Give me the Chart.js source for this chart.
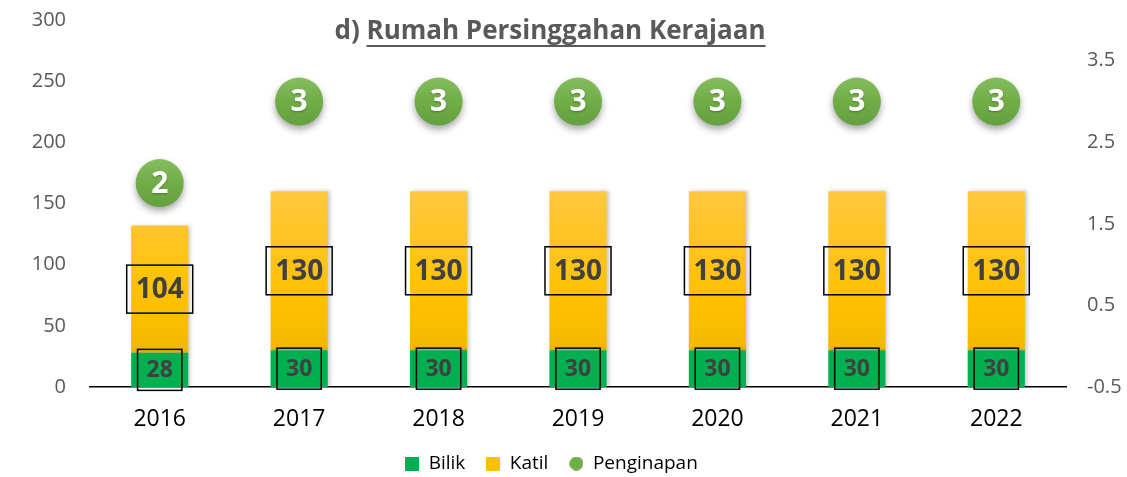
<!DOCTYPE html>
<html>
<head>
<meta charset="utf-8">
<script src="https://cdn.jsdelivr.net/npm/chart.js@4.4.1/dist/chart.umd.min.js"></script>
<style>
  html, body { margin: 0; padding: 0; background: #fff; }
  #wrap { width: 1127px; height: 477px; position: relative; }
</style>
</head>
<body>
<div id="wrap"><canvas id="rpk-canvas"></canvas></div>
<script>
const years = ["2016", "2017", "2018", "2019", "2020", "2021", "2022"];
const bilik = [28, 30, 30, 30, 30, 30, 30];
const katil = [104, 130, 130, 130, 130, 130, 130];
const penginapan = [2, 3, 3, 3, 3, 3, 3];
const rightTicks = [-0.5, 0.5, 1.5, 2.5, 3.5];

const FONT = "'Open Sans', 'DejaVu Sans', sans-serif";
const GREY = "#595959";

// small legend markers
function marker(color, round) {
    const c = document.createElement("canvas");
    c.width = 14; c.height = 14;
    const g = c.getContext("2d");
    g.fillStyle = color;
    if (round) {
        g.beginPath();
        g.arc(7, 7, 7, 0, Math.PI * 2);
        g.fill();
    } else {
        g.fillRect(0, 0, 14, 14);
    }
    return c;
}
const mkBilik = marker("#00B050", false);
const mkKatil = marker("#FFC000", false);
const mkPeng = marker("#70AD47", true);

// box labels centred in each bar segment
const boxLabels = {
    id: "boxLabels",
    afterDatasetsDraw(chart) {
        const ctx = chart.ctx;
        [[0, 23, 18], [1, 28, 20]].forEach(function (cfg) {
            const meta = chart.getDatasetMeta(cfg[0]);
            const vals = chart.data.datasets[cfg[0]].data;
            meta.data.forEach(function (el, i) {
                const txt = String(vals[i]);
                const cy = (el.y + el.base) / 2;
                ctx.save();
                ctx.font = "bold " + cfg[1] + "px " + FONT;
                const w = ctx.measureText(txt).width + 18;
                const h = cfg[1] + cfg[2];
                ctx.strokeStyle = "#000";
                ctx.lineWidth = 1.5;
                ctx.strokeRect(el.x - w / 2, cy - h / 2, w, h);
                ctx.fillStyle = "#404040";
                ctx.textAlign = "center";
                ctx.textBaseline = "middle";
                ctx.fillText(txt, el.x, cy + 1);
                ctx.restore();
            });
        });
        // numbers inside the circles
        const pm = chart.getDatasetMeta(2);
        pm.data.forEach(function (pt, i) {
            ctx.save();
            ctx.font = "bold 30px " + FONT;
            ctx.fillStyle = "#fff";
            ctx.textAlign = "center";
            ctx.textBaseline = "middle";
            ctx.shadowColor = "rgba(0,0,0,0.3)";
            ctx.shadowBlur = 2;
            ctx.shadowOffsetY = 1;
            ctx.fillText(String(penginapan[i]), pt.x, pt.y + 1);
            ctx.restore();
        });
    }
};

// shadows for bars and circles
const shadows = {
    id: "shadows",
    beforeDraw(chart) {
        // legend sits a bit left of the canvas centre in the original
        if (chart.legend) {
            chart.legend.left = -12;
            chart.legend.right = chart.width - 12;
        }
    },
    beforeDatasetDraw(chart, args) {
        const ctx = chart.ctx;
        ctx.save();
        if (args.index === 2) {
            ctx.shadowColor = "rgba(0,0,0,0.35)";
            ctx.shadowBlur = 7;
            ctx.shadowOffsetY = 4;
        } else {
            ctx.shadowColor = "rgba(0,0,0,0.22)";
            ctx.shadowBlur = 4;
            ctx.shadowOffsetX = 2;
        }
    },
    afterDatasetDraw(chart) {
        chart.ctx.restore();
    }
};

// title with underline
const titlePlugin = {
    id: "titlePlugin",
    afterDraw(chart) {
        const ctx = chart.ctx;
        ctx.save();
        ctx.font = "bold 26px " + FONT;
        ctx.fillStyle = GREY;
        ctx.textBaseline = "middle";
        const pre = "d) ";
        const main = "Rumah Persinggahan Kerajaan";
        const wPre = ctx.measureText(pre).width;
        const wMain = ctx.measureText(main).width;
        const x0 = 550 - (wPre + wMain) / 2;
        const y = 32;
        ctx.fillText(pre, x0, y);
        ctx.fillText(main, x0 + wPre, y);
        ctx.fillRect(x0 + wPre, y + 13, wMain, 2);
        ctx.restore();
    }
};

function katilGradient(context) {
    const area = context.chart.chartArea;
    const y = context.chart.scales.y;
    if (!area || !y) return "#FFC000";
    const top = y.getPixelForValue(160);
    if (!isFinite(top) || !isFinite(area.bottom)) return "#FFC000";
    const g = context.chart.ctx.createLinearGradient(0, top, 0, area.bottom);
    g.addColorStop(0, "#FFC83F");
    g.addColorStop(0.55, "#FFC000");
    g.addColorStop(1, "#E9B300");
    return g;
}

function circleGradient(context) {
    const s = context.chart.scales.y1;
    if (!s || context.dataIndex === undefined) return "#70AD47";
    const cy = s.getPixelForValue(penginapan[context.dataIndex]);
    if (!isFinite(cy)) return "#70AD47";
    const g = context.chart.ctx.createLinearGradient(0, cy - 24, 0, cy + 24);
    g.addColorStop(0, "#86BD5E");
    g.addColorStop(0.5, "#70AD47");
    g.addColorStop(1, "#64A03D");
    return g;
}

const ctx = document.getElementById("rpk-canvas").getContext("2d");
new Chart(ctx, {
    data: {
        labels: years,
        datasets: [
            {
                type: "bar",
                label: "Bilik",
                data: bilik,
                backgroundColor: "#00B050",
                yAxisID: "y",
                stack: "s",
                barPercentage: 0.41,
                categoryPercentage: 1,
                order: 2
            },
            {
                type: "bar",
                label: "Katil",
                data: katil,
                backgroundColor: katilGradient,
                yAxisID: "y",
                stack: "s",
                barPercentage: 0.41,
                categoryPercentage: 1,
                order: 2
            },
            {
                type: "line",
                label: "Penginapan",
                data: penginapan,
                yAxisID: "y1",
                showLine: false,
                pointRadius: 24,
                pointHoverRadius: 24,
                pointBorderWidth: 0,
                pointBackgroundColor: circleGradient,
                backgroundColor: "#70AD47",
                order: 1
            }
        ]
    },
    options: {
        responsive: true,
        maintainAspectRatio: false,
        animation: false,
        layout: { autoPadding: false, padding: { top: 20, left: 0, right: 0, bottom: -6 } },
        plugins: {
            tooltip: { enabled: false },
            legend: {
                position: "bottom",
                labels: {
                    font: { family: FONT, size: 19 },
                    color: GREY,
                    boxWidth: 14,
                    boxHeight: 14,
                    padding: 21,
                    usePointStyle: true,
                    generateLabels: function () {
                        return [
                            { text: "Bilik", fillStyle: "#00B050", strokeStyle: "#00B050", lineWidth: 0, pointStyle: mkBilik, datasetIndex: 0 },
                            { text: "Katil", fillStyle: "#FFC000", strokeStyle: "#FFC000", lineWidth: 0, pointStyle: mkKatil, datasetIndex: 1 },
                            { text: "Penginapan", fillStyle: "#70AD47", strokeStyle: "#70AD47", lineWidth: 0, pointStyle: mkPeng, datasetIndex: 2 }
                        ];
                    }
                }
            }
        },
        scales: {
            x: {
                stacked: true,
                grid: { display: false, drawTicks: false },
                border: { display: true, color: "#000", width: 1.5 },
                ticks: { color: "#000", font: { family: FONT, size: 23 }, padding: 19 },
                afterFit: function (scale) { scale.height = 46; }
            },
            y: {
                position: "left",
                stacked: true,
                min: 0,
                max: 300,
                grid: { display: false, drawTicks: true, tickLength: 22 },
                border: { display: false },
                ticks: { stepSize: 50, color: GREY, font: { family: FONT, size: 20 }, padding: 2 },
                afterFit: function (scale) { scale.width = 90; }
            },
            y1: {
                position: "right",
                min: -0.5,
                max: 4,
                grid: { display: false, drawTicks: true, tickLength: 19 },
                border: { display: false },
                ticks: { color: GREY, font: { family: FONT, size: 20 }, padding: 2 },
                afterBuildTicks: function (scale) {
                    scale.ticks = rightTicks.map(function (v) { return { value: v }; });
                },
                afterFit: function (scale) { scale.width = 61; }
            }
        }
    },
    plugins: [shadows, boxLabels, titlePlugin]
});
</script>
</body>
</html>
